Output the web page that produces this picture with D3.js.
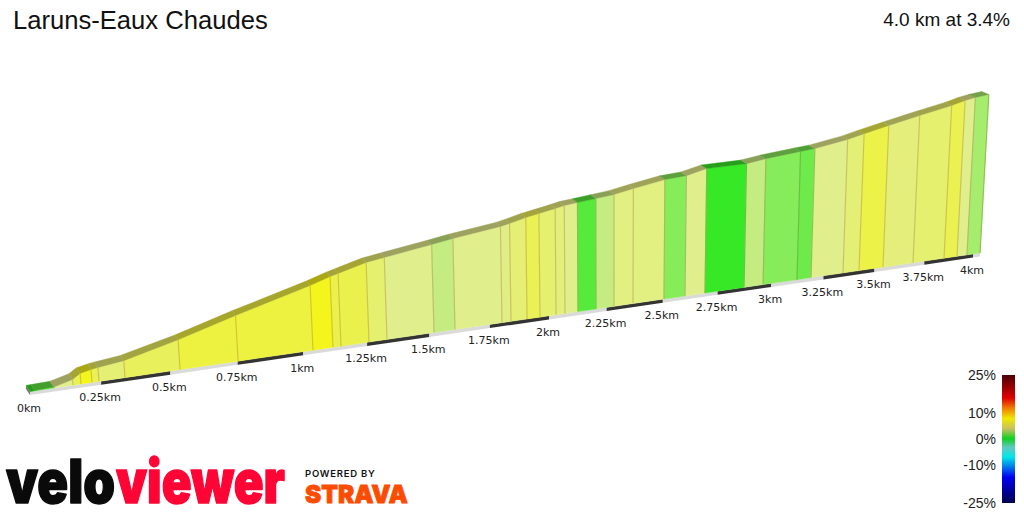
<!DOCTYPE html>
<html>
<head>
<meta charset="utf-8">
<style>
html,body{margin:0;padding:0;background:#fff;overflow:hidden}
svg{display:block}
</style>
<script src="https://cdn.jsdelivr.net/npm/d3@7"></script>
</head>
<body>
<svg id="chart" width="1024" height="512"></svg>
<script>
const title = "Laruns-Eaux Chaudes";
const summary = "4.0 km at 3.4%";
// Route sample points: distance (km) and height above the start (m)
const distanceKm = [0,.017,.0836,.1503,.1785,.2175,.2424,.3354,.5355,.7515,1.0377,1.1156,1.147,1.2575,1.3293,1.5192,1.6052,1.8007,1.8385,1.9064,1.9616,2.0302,2.0688,2.125,2.2035,2.2825,2.3666,2.5053,2.6004,2.6918,2.8725,2.9617,3.1227,3.19,3.3453,3.4238,3.5424,3.693,3.8506,3.9172,3.9687,4.0365];
const elevationM = [0,.2,.7,4.0,7.4,9.0,9.7,11.9,21.1,32.7,47.0,51.6,53.1,58.5,60.5,65.6,68.1,72.7,74.1,77.1,78.9,81.2,82.7,83.7,85.1,86.6,89.4,93.5,94.6,98.3,98.6,100.8,103.4,104.4,108.8,112.0,116.5,122.0,127.4,130.4,132.0,133.4];
// Gradient of each stretch between two sample points (%)
const gradientPct = [0,.5,3,4.5,6,4.5,3.7,4.3,5,5,6,4.7,4.7,3.8,3,2,3,3.2,3.7,4.5,3.8,3.5,3,.4,2,3.3,3.3,1,3,0,2,1,.7,3,3.6,4.8,3.5,3.8,4.6,3,1.5];
const tickKm = [0,.25,.5,.75,1,1.25,1.5,1.75,2,2.25,2.5,2.75,3,3.25,3.5,3.75,4];
const faceGrades = [0,1,2,3,4,5,6];
const faceColours = ["#36e826","#86ec5a","#c5ec80","#e0ee8c","#e6f068","#edf240","#f3f51c"];
const legendPct = [25,16,12,8,4,0.2,-3.3,-7,-15,-25];
const legendColours = ["#4a0008","#e00000","#f08000","#f0e800","#c8c060","#10d020","#60c8c0","#00e8e8","#0000f0","#000050"];
const legendTicks = [25,10,0,-10,-25];

const svg = d3.select("#chart");
const maxKm = d3.max(distanceKm);

// Perspective: the far end of the road recedes from the viewer
const foreshorten = 0.056;
const project = km => km / (1 + foreshorten * km);
const baseX = d3.scaleLinear().domain([0, project(4)]).range([30, 973]);
const baseY = d3.scaleLinear().domain([0, project(4)]).range([391.5, 254]);
const xAt = km => baseX(project(km));
const yAt = km => baseY(project(km));
const heightPx = (m, km) => m * 1.457 / (1 + foreshorten * km);
const backDx = d3.scaleLinear().domain([0, .5, 4]).range([-4, -3.4, -7]);
const backDy = d3.scaleLinear().domain([0, .5, 4]).range([-6, -4.7, -3]);
const grade = d3.scaleLinear().domain(faceGrades).range(faceColours).clamp(true);

const vanishX = 610, lean = 1.5e-4;
const topPoint = i => {
  const km = distanceKm[i], h = heightPx(elevationM[i], km), x = xAt(km);
  return [x + (x - vanishX) * h * lean, yAt(km) - h];
};
const backPoint = i => {
  const p = topPoint(i), km = distanceKm[i];
  return [p[0] + backDx(km), p[1] + backDy(km)];
};
const path = pts => "M" + pts.map(p => p.join(",")).join("L") + "Z";
const tint = (c, r, g, b) => {
  const k = d3.rgb(c);
  return d3.rgb(k.r * r, k.g * g, k.b * b).formatHex();
};
const topShade = c => tint(c, .7, .68, .68);

// Base strip under the road, alternating every quarter kilometre
const strip = svg.append("g");
const stripEdges = tickKm.concat(maxKm);
strip.selectAll("path").data(d3.range(stripEdges.length - 1)).join("path")
  .attr("d", i => {
    const a = stripEdges[i], b = stripEdges[i + 1];
    return path([[xAt(a), yAt(a)], [xAt(b), yAt(b)], [xAt(b), yAt(b) + 3.6], [xAt(a), yAt(a) + 3.6]]);
  })
  .attr("fill", i => i % 2 ? "#333333" : "#dadada");
strip.append("path")
  .attr("d", path([[xAt(0) - 4, yAt(0) - 6], [xAt(0), yAt(0)], [xAt(0), yAt(0) + 3.6], [xAt(0) - 4, yAt(0) - 2.4]]))
  .attr("fill", "#777");

// Front wall, one panel per stretch
const stretches = d3.range(gradientPct.length);
svg.append("g").selectAll("path").data(stretches).join("path")
  .attr("d", i => path([[xAt(distanceKm[i]), yAt(distanceKm[i])], topPoint(i), topPoint(i + 1), [xAt(distanceKm[i + 1]), yAt(distanceKm[i + 1])]]))
  .attr("fill", i => grade(gradientPct[i]))
  .attr("stroke", i => grade(gradientPct[i]))
  .attr("stroke-width", .4);

// Road surface seen from above
svg.append("g").selectAll("path").data(stretches).join("path")
  .attr("d", i => path([topPoint(i), backPoint(i), backPoint(i + 1), topPoint(i + 1)]))
  .attr("fill", i => topShade(grade(gradientPct[i])))
  .attr("stroke", i => topShade(grade(gradientPct[i])))
  .attr("stroke-width", .4);

// Panel dividers take a muted tone of the two panels they separate
svg.append("g").selectAll("line").data(d3.range(2, distanceKm.length)).join("line")
  .attr("x1", i => xAt(distanceKm[i])).attr("y1", i => yAt(distanceKm[i]))
  .attr("x2", i => topPoint(i)[0]).attr("y2", i => topPoint(i)[1])
  .attr("stroke", i => {
    const left = grade(gradientPct[i - 1]);
    const right = i < gradientPct.length ? grade(gradientPct[i]) : left;
    return tint(d3.interpolateRgb(left, right)(.5), .88, .82, .8);
  })
  .attr("stroke-width", 1.2);

// Distance labels
svg.append("g").selectAll("text").data(tickKm).join("text")
  .attr("x", d => xAt(d) - 1)
  .attr("y", d => yAt(d) + 20)
  .attr("text-anchor", "middle")
  .attr("font-family", "DejaVu Sans")
  .attr("font-size", 11)
  .attr("fill", "#222")
  .text(d => d + "km");

// Headings
svg.append("text").attr("x", 13).attr("y", 29)
  .attr("font-family", "Liberation Sans").attr("font-size", 25.6).attr("fill", "#111").text(title);
svg.append("text").attr("x", 1010).attr("y", 26).attr("text-anchor", "end")
  .attr("font-family", "Liberation Sans").attr("font-size", 19).attr("fill", "#111").text(summary);

// Gradient legend
const legendY = d3.scaleLinear().domain([25, -25]).range([375, 503]);
const defs = svg.append("defs");
const lg = defs.append("linearGradient").attr("id", "legendRamp")
  .attr("x1", 0).attr("x2", 0).attr("y1", 0).attr("y2", 1);
lg.selectAll("stop").data(legendPct).join("stop")
  .attr("offset", d => (25 - d) / 50)
  .attr("stop-color", (d, i) => legendColours[i]);
svg.append("rect").attr("x", 1002).attr("width", 13)
  .attr("y", legendY(25)).attr("height", legendY(-25) - legendY(25))
  .attr("fill", "url(#legendRamp)");
svg.append("g").selectAll("text").data(legendTicks).join("text")
  .attr("x", 996).attr("y", d => legendY(d) + 5)
  .attr("text-anchor", "end")
  .attr("font-family", "Liberation Sans").attr("font-size", 14).attr("fill", "#222")
  .text(d => d + "%");

// Branding: each wordmark is condensed to its slot from its measured width
const fit = (sel, x, width) => {
  const natural = sel.node().getComputedTextLength();
  sel.attr("transform", `translate(${x},503) scale(${width / natural},1)`);
};
const brand = svg.append("g").attr("font-family", "Inter").attr("font-weight", 900)
  .attr("stroke-linejoin", "round");
const veloMark = brand.append("text").attr("font-size", 60)
  .attr("fill", "#0a0a0a").attr("stroke", "#0a0a0a").attr("stroke-width", 1.5).text("velo");
const viewerMark = brand.append("text").attr("font-size", 60)
  .attr("fill", "#ff0535").attr("stroke", "#ff0535").attr("stroke-width", 1.5).text("viewer");
fit(veloMark, 6, 109);
fit(viewerMark, 116, 169);

svg.append("text").attr("x", 305).attr("y", 476.5)
  .attr("font-family", "Inter").attr("font-weight", 600).attr("font-size", 9.5)
  .attr("letter-spacing", .75).attr("fill", "#111").text("POWERED BY");
const stravaMark = svg.append("text").attr("font-family", "Inter").attr("font-weight", 900).attr("font-size", 25)
  .attr("fill", "#fc4c02").attr("stroke", "#fc4c02").attr("stroke-width", .8).text("STRAVA");
fit(stravaMark, 305, 103);
</script>
</body>
</html>
